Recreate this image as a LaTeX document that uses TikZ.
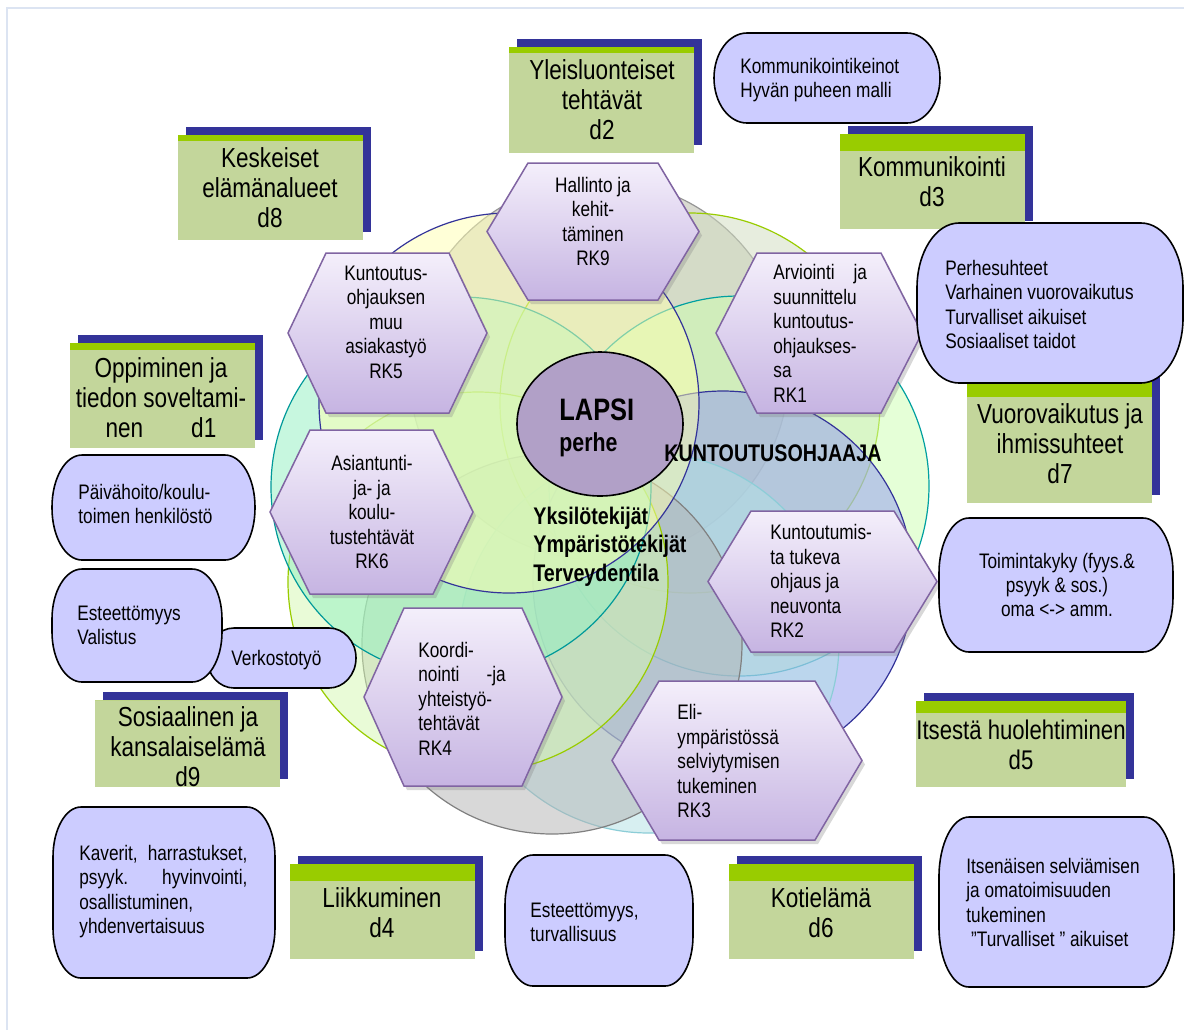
\documentclass[tikz,border=0pt]{standalone}
\usepackage{fontspec}
\setmainfont{Liberation Sans}[FakeStretch=0.82]
\usetikzlibrary{shadows}

\definecolor{framecol}{RGB}{220,228,242}
\definecolor{hexline}{RGB}{128,100,162}
\definecolor{hextop}{RGB}{244,239,251}
\definecolor{hexbot}{RGB}{198,180,226}
\definecolor{blobfill}{RGB}{204,204,255}
\definecolor{lapsifill}{RGB}{177,160,199}
\definecolor{dbodycol}{RGB}{195,214,155}
\definecolor{dbarcol}{RGB}{153,204,0}
\definecolor{dshadowcol}{RGB}{51,51,153}
% ring fills and rims
\definecolor{rMint}{RGB}{145,241,193}   \definecolor{rMintL}{RGB}{0,153,153}
\definecolor{rYellow}{RGB}{255,255,177} \definecolor{rYellowL}{RGB}{51,51,153}
\definecolor{rGrayA}{RGB}{180,182,165}  \definecolor{rGrayAL}{RGB}{150,150,150}
\definecolor{rOlive}{RGB}{209,221,191}  \definecolor{rOliveL}{RGB}{153,204,0}
\definecolor{rLime}{RGB}{205,255,177}   \definecolor{rLimeL}{RGB}{0,160,160}
\definecolor{rBlue}{RGB}{145,153,241}   \definecolor{rBlueL}{RGB}{51,51,153}
\definecolor{rCyan}{RGB}{177,225,229}   \definecolor{rCyanL}{RGB}{140,205,215}
\definecolor{rGrayB}{RGB}{179,179,179}  \definecolor{rGrayBL}{RGB}{128,128,128}
\definecolor{rGreen}{RGB}{213,249,177}  \definecolor{rGreenL}{RGB}{153,204,0}

\tikzset{
  ring/.style={fill opacity=0.5, line width=0.6pt},
  hexbox/.style={draw=hexline, line width=0.75pt, top color=hextop, bottom color=hexbot,
    drop shadow={shadow xshift=1.5pt, shadow yshift=-2pt, opacity=0.3}},
  blobbox/.style={draw=black, line width=0.8pt, fill=blobfill},
  smalltext/.style={font=\fontsize{10.5pt}{12.25pt}\selectfont, inner sep=0pt},
  blobtext/.style={font=\fontsize{10.5pt}{12.1pt}\selectfont, inner sep=0pt},
  domaintext/.style={font=\fontsize{13.75pt}{15pt}\selectfont, inner sep=0pt, align=center},
  boldtext/.style={font=\bfseries\fontsize{12pt}{14.25pt}\selectfont, inner sep=0pt},
  dbody/.style={fill=dbodycol},
  dbar/.style={fill=dbarcol},
  dshadow/.style={fill=dshadowcol},
}

% hexagon: left x, right x, top y, bottom y, inset of the corner points
\newcommand\hexa[5]{%
  \path[hexbox] (#1,{(#3+#4)/2}) -- (#1+#5,#3) -- (#2-#5,#3) -- (#2,{(#3+#4)/2})
    -- (#2-#5,#4) -- (#1+#5,#4) -- cycle;}

% domain card: left, top, right, bottom, height of the green bar
\newcommand\greenbox[5]{%
  \fill[dshadow] (#1+8,#2-8) rectangle (#3+8,#4-8);
  \fill[dbody] (#1,#2) rectangle (#3,#4);
  \fill[dbar] (#1,#2) rectangle (#3,#2+#5);}

% rounded lavender box: left, top, right, bottom, corner x radius, corner y radius
\newcommand\blob[6]{%
  \path[blobbox] (#1+#5,#2) -- (#3-#5,#2)
    .. controls (#3-0.4477*#5,#2) and (#3,#2+0.4477*#6) .. (#3,#2+#6)
    -- (#3,#4-#6)
    .. controls (#3,#4-0.4477*#6) and (#3-0.4477*#5,#4) .. (#3-#5,#4)
    -- (#1+#5,#4)
    .. controls (#1+0.4477*#5,#4) and (#1,#4-0.4477*#6) .. (#1,#4-#6)
    -- (#1,#2+#6)
    .. controls (#1,#2+0.4477*#6) and (#1+0.4477*#5,#2) .. (#1+#5,#2) -- cycle;}

\begin{document}
\begin{tikzpicture}[x=0.5pt,y=-0.5pt]
\useasboundingbox (0,0) rectangle (1184,1030);
\fill[white] (0,0) rectangle (1184,1030);
\draw[framecol, line width=1pt] (7,1030) -- (7,8) -- (1184,8);

% nine overlapping circles, laid down clockwise from the top one
\foreach \cx/\cy/\fc/\lc in {599/370/rGrayA/rGrayAL, 690/403/rOlive/rOliveL,
    739/486/rLime/rLimeL, 723/581/rBlue/rBlueL, 649/643/rCyan/rCyanL,
    552/644/rGrayB/rGrayBL, 478/582/rGreen/rGreenL, 461/487/rMint/rMintL,
    509/403/rYellow/rYellowL}
  {\draw[ring, fill=\fc, draw=\lc] (\cx,\cy) circle[radius=95pt];}

% centre
\draw[fill=lapsifill, line width=0.8pt] (600,424) ellipse[x radius=41.5pt, y radius=36pt];
\node[anchor=west, inner sep=0pt, font=\bfseries\fontsize{15.5pt}{17pt}\selectfont] (lapsi) at (559,410) {LAPSI};
\node[anchor=west, inner sep=0pt, font=\bfseries\fontsize{13pt}{15pt}\selectfont] (perhe) at (559,445) {perhe};
\node[boldtext] (kuntoutusohjaaja) at (773,453) {KUNTOUTUSOHJAAJA};
\node[boldtext, anchor=west, align=left] (tekijat) at (533,546.5) {Yksilötekijät\\Ympäristötekijät\\Terveydentila};

% task hexagons
\hexa{487}{699}{163}{300}{41}
\node[smalltext, align=center] (rk9) at (593,221.5) {Hallinto ja\\kehit-\\täminen\\RK9};
\hexa{288}{487}{253}{413}{38}
\node[smalltext, align=center] (rk5) at (386,322) {Kuntoutus-\\ohjauksen\\muu\\asiakastyö\\RK5};
\hexa{716}{922}{253}{413}{41}
\node[smalltext, align=left, anchor=west] (rk1) at (773,333.5) {Arviointi\hspace{9.5pt}ja\\suunnittelu\\kuntoutus-\\ohjaukses-\\sa\\RK1};
\hexa{270}{473}{430}{594}{40}
\node[smalltext, align=center] (rk6) at (372,512) {Asiantunti-\\ja- ja\\koulu-\\tustehtävät\\RK6};
\hexa{708}{937}{511}{652}{43}
\node[smalltext, align=left, anchor=west] (rk2) at (770,581) {Kuntoutumis-\\ta tukeva\\ohjaus ja\\neuvonta\\RK2};
\hexa{364}{562}{608}{786}{40}
\node[smalltext, align=left, anchor=west] (rk4) at (418,698.5) {Koordi-\\nointi\hspace{13.5pt}-ja\\yhteistyö-\\tehtävät\\RK4};
\hexa{612}{862}{681}{840}{47}
\node[smalltext, align=left, anchor=west] (rk3) at (677,761) {Eli-\\ympäristössä\\selviytymisen\\tukeminen\\RK3};

% domain cards
\greenbox{178}{135}{363}{240}{6}
\node[domaintext] (d8) at (270,188) {Keskeiset\\elämänalueet\\d8};
\greenbox{509}{47}{694}{153}{6}
\node[domaintext] (d2) at (602,100) {Yleisluonteiset\\tehtävät\\d2};
\greenbox{840}{134}{1025}{229}{17}
\node[domaintext] (d3) at (932,182) {Kommunikointi\\d3};
\greenbox{70}{343}{255}{448}{7}
\node[domaintext] (d1) at (161,397.5) {Oppiminen ja\\tiedon soveltami-\\nen\hspace{24pt}d1};
\greenbox{967}{382}{1152}{503}{15}
\node[domaintext] (d7) at (1060,443.5) {Vuorovaikutus ja\\ihmissuhteet\\d7};
\greenbox{95}{700}{280}{787}{0}
\node[domaintext] (d9) at (188,747) {Sosiaalinen ja\\kansalaiselämä\\d9};
\greenbox{290}{864}{475}{959}{17}
\node[domaintext] (d4) at (382,912.5) {Liikkuminen\\d4};
\greenbox{729}{864}{914}{959}{17}
\node[domaintext] (d6) at (821,912.5) {Kotielämä\\d6};
\greenbox{916}{701}{1126}{787}{12}
\node[domaintext, font=\fontsize{13.5pt}{15pt}\selectfont] (d5) at (1021,745) {Itsestä huolehtiminen\\d5};

% lavender notes
\blob{714}{33}{940}{123}{33}{45}
\node[blobtext, align=left, anchor=west] (keinot) at (740,80) {Kommunikointikeinot\\Hyvän puheen malli};
\blob{917}{223}{1183}{383}{42}{65}
\node[blobtext, align=left, anchor=west] (perhesuhteet) at (945,304.5) {Perhesuhteet\\Varhainen vuorovaikutus\\Turvalliset aikuiset\\Sosiaaliset taidot};
\blob{939}{518}{1173}{652}{30}{55}
\node[blobtext, align=center] (toimintakyky) at (1057,585) {Toimintakyky (fyys.\&\\psyyk \& sos.)\\oma <-> amm.};
\blob{52}{455}{255}{560}{30}{52}
\node[blobtext, align=left, anchor=west] (paivahoito) at (78,504) {Päivähoito/koulu-\\toimen henkilöstö};
\blob{207}{628}{356}{688}{27}{30}
\node[blobtext, anchor=west] (verkosto) at (231,660) {Verkostotyö};
\blob{52}{569}{222}{682}{30}{50}
\node[blobtext, align=left, anchor=west] (valistus) at (77,625.5) {Esteettömyys\\Valistus};
\blob{53}{807}{275}{978}{28}{50}
\node[blobtext, align=left, anchor=west] (kaverit) at (79,891.5) {\makebox[84pt][s]{Kaverit, harrastukset,}\\\makebox[84pt][s]{psyyk. hyvinvointi,}\\osallistuminen,\\yhdenvertaisuus};
\blob{505}{855}{693}{986}{28}{50}
\node[blobtext, align=left, anchor=west] (turvallisuus) at (530,922.5) {Esteettömyys,\\turvallisuus};
\blob{939}{817}{1174}{987}{30}{60}
\node[blobtext, align=left, anchor=west] (omatoimisuus) at (966,902.5) {Itsenäisen selviämisen\\ja omatoimisuuden\\tukeminen\\\ ”Turvalliset ” aikuiset};
\end{tikzpicture}
\end{document}
